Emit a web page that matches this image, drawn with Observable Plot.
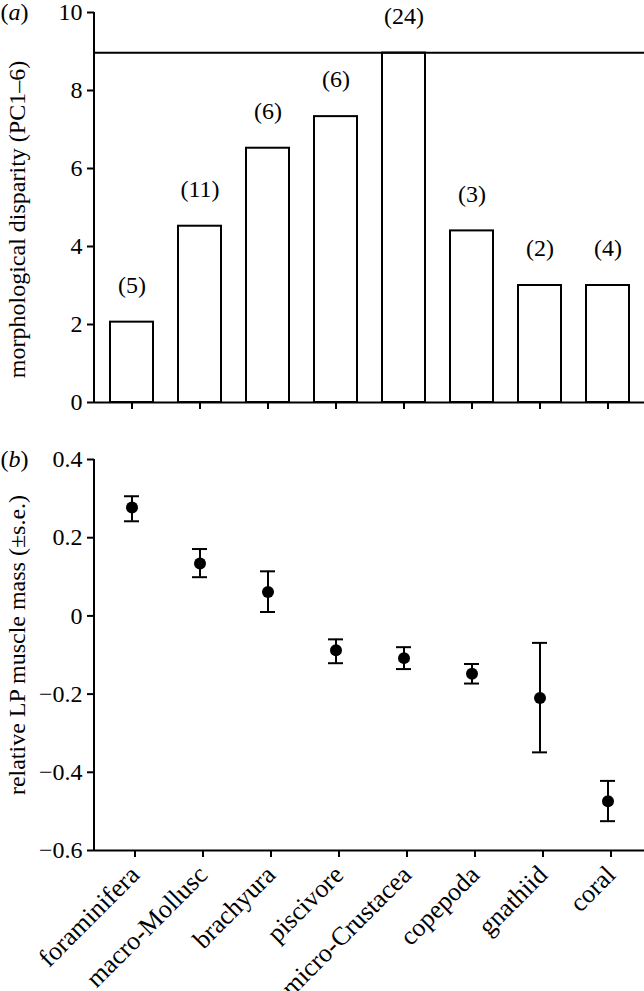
<!DOCTYPE html>
<html>
<head>
<meta charset="utf-8">
<script src="https://cdn.jsdelivr.net/npm/d3@7"></script>
<script src="https://cdn.jsdelivr.net/npm/@observablehq/plot@0.6"></script>
<style>
  html, body { margin: 0; padding: 0; background: white; }
  #chart { width: 644px; }
  #chart svg { display: block; }
  #chart svg, #chart svg text { font-family: "Liberation Serif", "Times New Roman", serif !important; }
</style>
</head>
<body>
<div id="chart"></div>
<script>
const categories = ["foraminifera", "macro-Mollusc", "brachyura", "piscivore", "micro-Crustacea", "copepoda", "gnathiid", "coral"];
const disparity = [2.06, 4.52, 6.52, 7.33, 8.96, 4.40, 3.0, 3.0];
const sampleSizes = [5, 11, 6, 6, 24, 3, 2, 4];
const disparityLine = [8.97];
const lpMass = [0.277, 0.134, 0.061, -0.088, -0.108, -0.148, -0.210, -0.474];
const lpUpper = [0.306, 0.171, 0.114, -0.060, -0.080, -0.123, -0.069, -0.422];
const lpLower = [0.242, 0.099, 0.010, -0.121, -0.136, -0.173, -0.349, -0.525];
const yTicksA = [0, 2, 4, 6, 8, 10];
const yTicksB = [-0.6, -0.4, -0.2, 0, 0.2, 0.4];

const rowsA = categories.map((c, i) => ({cat: c, disp: disparity[i], n: sampleSizes[i]}));
const rowsB = categories.map((c, i) => ({cat: c, m: lpMass[i], hi: lpUpper[i], lo: lpLower[i]}));

const FONT = '"Liberation Serif", "Times New Roman", serif';
const FS = 24;
const svgns = "http://www.w3.org/2000/svg";
const fmtB = d => d === 0 ? "0" : d3.format(".1f")(d).replace("-", "\u2212");

function leftAxisLine(index, scales, values, dims) {
  const l = document.createElementNS(svgns, "line");
  l.setAttribute("x1", dims.marginLeft);
  l.setAttribute("x2", dims.marginLeft);
  l.setAttribute("y1", dims.marginTop);
  l.setAttribute("y2", dims.height - dims.marginBottom);
  l.setAttribute("stroke", "black");
  l.setAttribute("stroke-width", 2);
  return l;
}

const xOpts = {domain: categories, paddingInner: 0.37, paddingOuter: 0.185};

const plotA = Plot.plot({
  width: 644, height: 420,
  marginTop: 12, marginBottom: 18, marginLeft: 94, marginRight: 0,
  style: {fontFamily: FONT, fontSize: FS + "px", color: "black", background: "white"},
  x: {...xOpts, axis: null},
  y: {domain: [0, 10], axis: null},
  marks: [
    Plot.barY(rowsA, {x: "cat", y: "disp", fill: "white", stroke: "black", strokeWidth: 2}),
    Plot.ruleY(disparityLine, {stroke: "black", strokeWidth: 2}),
    Plot.ruleY([0], {stroke: "black", strokeWidth: 2}),
    leftAxisLine,
    Plot.axisX({anchor: "bottom", tickSize: 7, strokeWidth: 2, tickFormat: () => "", label: null}),
    Plot.axisY({anchor: "left", ticks: yTicksA, tickSize: 7, tickPadding: 5, strokeWidth: 2, fontSize: FS, label: null}),
    Plot.text(rowsA, {x: "cat", y: "disp", text: d => `(${d.n})`, dy: -37, fontSize: FS}),
    Plot.text(["morphological disparity (PC1–6)"], {frameAnchor: "left", textAnchor: "middle", rotate: -90, dx: -77, dy: 12, fontSize: FS}),
    Plot.text(["(a)"], {frameAnchor: "top-left", textAnchor: "start", lineAnchor: "top", dx: -94, dy: -10, fontSize: FS})
  ]
});

const plotB = Plot.plot({
  width: 644, height: 571,
  marginTop: 39, marginBottom: 141, marginLeft: 94, marginRight: 0,
  style: {fontFamily: FONT, fontSize: FS + "px", color: "black", background: "white"},
  x: {...xOpts, axis: null},
  y: {domain: [-0.6, 0.4], axis: null},
  marks: [
    Plot.ruleY([-0.6], {stroke: "black", strokeWidth: 2}),
    leftAxisLine,
    Plot.axisX({anchor: "bottom", tickSize: 7, strokeWidth: 2, tickRotate: -45, tickPadding: 13, dx: 3, fontSize: 26, label: null}),
    Plot.axisY({anchor: "left", ticks: yTicksB, tickFormat: fmtB, tickSize: 7, tickPadding: 5, strokeWidth: 2, fontSize: FS, label: null}),
    Plot.ruleX(rowsB, {x: "cat", y1: "lo", y2: "hi", stroke: "black", strokeWidth: 2}),
    Plot.tickY(rowsB, {x: "cat", y: "hi", stroke: "black", strokeWidth: 2, insetLeft: 14, insetRight: 14}),
    Plot.tickY(rowsB, {x: "cat", y: "lo", stroke: "black", strokeWidth: 2, insetLeft: 14, insetRight: 14}),
    Plot.dot(rowsB, {x: "cat", y: "m", r: 6, fill: "black"}),
    Plot.text(["relative LP muscle mass (±s.e.)"], {frameAnchor: "left", textAnchor: "middle", rotate: -90, dx: -77, dy: -10, fontSize: FS}),
    Plot.text(["(b)"], {frameAnchor: "top-left", textAnchor: "start", lineAnchor: "top", dx: -94, dy: -10, fontSize: FS})
  ]
});

const chart = document.getElementById("chart");
chart.appendChild(plotA);
chart.appendChild(plotB);

// italicize the panel letters, keep parentheses upright
for (const t of document.querySelectorAll("#chart text")) {
  const s = t.textContent;
  if (s === "(a)" || s === "(b)") {
    const letter = s[1];
    while (t.firstChild) t.removeChild(t.firstChild);
    t.appendChild(document.createTextNode("("));
    const ts = document.createElementNS(svgns, "tspan");
    ts.setAttribute("font-style", "italic");
    ts.textContent = letter;
    t.appendChild(ts);
    t.appendChild(document.createTextNode(")"));
  }
}
</script>
</body>
</html>
